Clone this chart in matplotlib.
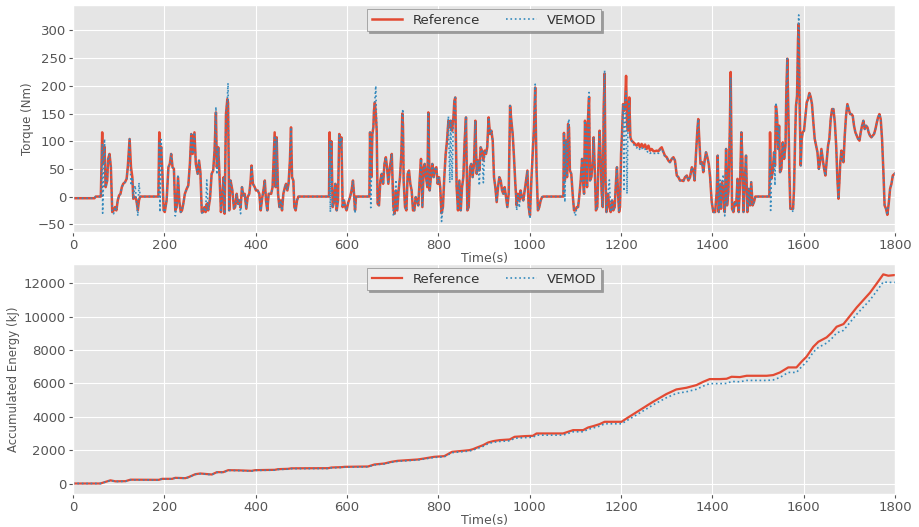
import numpy as np
import matplotlib
matplotlib.use("Agg")
import matplotlib.pyplot as plt

plt.style.use("ggplot")

# ---- torque trace (s, Nm) ----
torque_t = [
    0, 47, 50, 61, 64, 65, 69, 71.5, 75, 77,
    80, 83, 86, 89, 92, 95, 98, 101, 104, 107,
    110, 114, 117.5, 120, 124, 127, 130, 132, 136, 139,
    142, 144.5, 147, 187, 189, 190.5, 193, 195.6, 198.5, 201,
    205, 209, 212, 215, 218, 221, 224, 227, 230, 233,
    236, 238.7, 241.6, 245, 249, 252.5, 256, 259, 262, 266,
    269, 273, 276, 279, 282, 285, 288, 290.5, 293, 296,
    300, 303.6, 307, 310, 313, 315, 318, 321, 324, 327,
    330, 332, 335, 338, 339.5, 342, 345, 349, 352.5, 355,
    358.4, 361.3, 364, 367, 370, 373, 376, 379.5, 382.5, 386,
    389, 391, 394, 398, 400.7, 404.4, 408, 411, 414, 417,
    420, 422.6, 425.5, 428.5, 431, 434, 437, 441.6, 443.8, 446,
    449, 452, 455, 457.7, 460.6, 464, 466.5, 469.4, 472, 475,
    477.4, 479.6, 482.5, 484.7, 487.6, 490.5, 493.5, 560.6, 562, 563.5,
    565.7, 568.6, 571.5, 574.5, 577.4, 580.3, 583, 585.4, 587.6, 590.5,
    593.4, 596.3, 599, 603, 606.6, 610, 613, 615.3, 617.5, 619.7,
    649, 650.4, 652, 653.3, 655.5, 657.7, 659, 661, 663, 665,
    667, 670, 673, 676, 679, 682, 685, 687.6, 690.5, 694,
    698, 701.5, 704.3, 707, 710, 713, 716, 719, 721, 722.5,
    724, 727, 730, 732.8, 735.7, 738.6, 741.5, 744.5, 747.4, 750.3,
    753, 756, 759, 762, 765, 768, 770, 773, 776, 778,
    781, 784, 786.8, 789.7, 792.6, 795.6, 798.5, 801.4, 804, 807,
    810, 813, 816, 819, 822, 825, 827, 830, 833, 835,
    837, 840, 843, 846, 849, 851.8, 854.7, 857.6, 860.5, 863.5,
    866.4, 869.3, 872, 875, 878, 881, 884, 887, 889.7, 892.6,
    895.5, 898.5, 901.4, 904.3, 907, 910, 913, 916, 919, 921.8,
    924.7, 927.7, 930.6, 933.5, 936.5, 939.4, 942.3, 945.2, 948, 951,
    954, 957, 959.8, 962.7, 965.6, 968.5, 971.5, 974.4, 977.3, 980,
    983, 986, 989, 992, 995, 997.7, 1000.6, 1003.6, 1006.5, 1009.4,
    1012, 1015, 1018, 1021, 1024, 1027, 1030, 1073.7, 1075, 1077,
    1079.5, 1081.7, 1084, 1086, 1088, 1091, 1094, 1097, 1100, 1103,
    1106, 1109, 1111.7, 1114.6, 1116.8, 1119, 1121, 1123, 1125.5, 1127.7,
    1130, 1132, 1135, 1138, 1140, 1143, 1145, 1148, 1151, 1153,
    1155.5, 1157.6, 1160, 1162, 1164, 1166, 1168, 1171.5, 1174.4, 1177.3,
    1180.3, 1183, 1186, 1189, 1191, 1193.4, 1195.6, 1197.8, 1200, 1202,
    1204.4, 1206.5, 1208.7, 1211, 1213, 1215, 1218, 1220.4, 1223, 1227,
    1230.6, 1234, 1238, 1241.6, 1245, 1249, 1252.5, 1256, 1260, 1263.5,
    1267, 1271, 1274.4, 1278, 1282, 1285, 1289, 1293, 1296, 1300,
    1303.6, 1307, 1311, 1314.6, 1318, 1322, 1325.5, 1329, 1333, 1336.5,
    1340, 1344, 1347.4, 1351, 1355, 1358.4, 1361, 1364, 1367, 1369,
    1371.5, 1374, 1377.4, 1380, 1383, 1386, 1389, 1392, 1395, 1398.5,
    1402, 1406, 1409.4, 1411.6, 1413.8, 1416.7, 1419, 1421, 1424, 1427,
    1430, 1432, 1435, 1438, 1440, 1443, 1446, 1449, 1452, 1455,
    1457.6, 1460.5, 1463.4, 1465.6, 1468, 1470.7, 1473.6, 1476.5, 1479.5, 1482.4,
    1485, 1488, 1491, 1494, 1524.7, 1526.2, 1527.5, 1529, 1532, 1535,
    1537, 1539, 1541.5, 1544, 1546, 1548, 1551, 1554, 1557, 1560,
    1562, 1564, 1566.3, 1568.5, 1570.7, 1573.6, 1576.6, 1578.7, 1581, 1583,
    1585.3, 1587.5, 1589, 1591, 1593.4, 1595.5, 1597.7, 1600.6, 1603.6, 1606.5,
    1609.4, 1612.3, 1615.2, 1618, 1621, 1624, 1627, 1630, 1633, 1635.7,
    1638.6, 1641.5, 1644.5, 1647.4, 1650, 1653.2, 1656, 1659, 1662, 1665,
    1668, 1671, 1673.6, 1676, 1678, 1680, 1682.4, 1684.6, 1687, 1689.7,
    1692.6, 1695.5, 1698.5, 1701.4, 1704.3, 1707.2, 1710, 1713, 1716, 1719,
    1722, 1724.7, 1727.6, 1730.6, 1733.5, 1736.4, 1739.4, 1742, 1745, 1748,
    1751, 1754, 1757, 1760, 1762.7, 1765.6, 1768.5, 1771.4, 1774.4, 1777,
    1780, 1783, 1786, 1789, 1792, 1795, 1798.5, 1800,
]

torque_ref = [
    -3, -3, 0, 0, 116, 60, 90, 17, 29, 68,
    77, 53, -28, -25, -19, -25, -7, 2, 5, 17,
    23, 26, 32, 53, 104, 53, 35, -4, -1, -7,
    -25, -7, 0, 0, 116, 60, 90, 47, -25, -28,
    -7, 53, 59, 77, 53, 50, -25, -19, 35, -10,
    -28, -25, -13, 5, 14, 20, 59, 113, 77, 116,
    59, 41, 65, 44, -28, -28, -19, -28, -13, -25,
    -4, 41, 47, 83, 152, 53, 89, 35, -28, 2,
    35, -31, 149, 176, 170, -25, 29, 11, -22, -19,
    5, -13, -7, -20, 17, 2, 5, -22, -1, 5,
    29, 56, 23, 17, 11, 11, 5, -25, -4, 11,
    29, -7, -25, 5, 5, 5, 17, 116, 17, 107,
    5, -19, -7, -25, 5, 17, 23, 11, 23, 65,
    125, 35, 29, -19, -25, -7, 0, 0, 116, 50,
    100, -19, -10, 23, -25, -7, 113, 89, 107, -19,
    -7, -19, -25, -10, -1, 11, 29, 5, -25, 0,
    0, 116, 60, 35, 113, 125, 155, 170, 150, 119,
    -13, -16, 29, 41, 23, 59, 71, 53, 23, 53,
    77, -19, -31, 11, -25, 11, 35, 77, 150, 130,
    29, -19, -25, 41, 47, 23, 11, -25, -25, -1,
    -7, -16, 29, 68, -19, 53, 59, 35, 17, 152,
    11, 38, 59, 35, 50, 53, 23, 35, 17, -30,
    -19, 35, 77, 101, 137, 125, 137, 119, 143, 173,
    179, 17, -25, 29, -25, 17, 35, 101, 143, -25,
    -19, 53, 59, 35, 59, 137, 41, 65, 47, 89,
    83, 65, 83, 77, 89, 143, 113, 119, 101, 35,
    17, -10, 17, 35, 29, 11, 5, 17, -1, -19,
    5, 164, 137, 113, 71, 23, -16, 5, -7, 11,
    -1, -7, 11, 29, 47, -19, -34, 29, 77, 125,
    197, 47, -25, -19, -7, -1, 0, 0, 115, 30,
    101, 35, 131, 125, 47, 41, 5, -25, -25, -19,
    -19, 5, 29, 68, 29, 5, 137, 119, 17, 143,
    180, 29, 35, 65, 107, 35, -25, -19, 77, 119,
    65, 5, -19, 161, 222, 29, -28, 5, -19, -28,
    -7, -25, -19, 29, 53, 5, -28, -19, 77, 113,
    167, 155, 167, 218, 137, 119, 179, 107, 101, 98,
    95, 92, 96, 89, 95, 89, 94, 86, 92, 83,
    86, 82, 82, 83, 82, 86, 89, 80, 74, 71,
    65, 62, 68, 71, 65, 38, 35, 29, 29, 28,
    35, 38, 29, 35, 53, 47, 29, 77, 119, 140,
    101, 59, 62, 44, 65, 80, 71, 59, 35, -10,
    -28, -28, 8, 74, -28, 20, -22, 26, 8, -28,
    86, -16, 8, 116, 225, -22, -28, -10, -16, 32,
    -28, 20, 116, 68, -28, 26, 74, -28, 14, -16,
    26, -16, -10, 0, 0, 116, 60, 32, 44, 80,
    56, 164, 146, 86, 128, 44, 50, 98, 68, 92,
    195, 249, 152, 44, -22, -22, -22, 14, 104, 164,
    182, 285, 312, 164, 56, 104, 116, 119, 146, 170,
    176, 187, 180, 167, 134, 104, 92, 80, 50, 62,
    86, 68, 50, 38, 62, 92, 104, 140, 158, 158,
    134, 92, 32, -4, 26, 62, 83, 68, 62, 110,
    146, 167, 158, 149, 149, 146, 128, 116, 110, 104,
    101, 116, 128, 137, 122, 128, 125, 116, 110, 107,
    110, 113, 122, 134, 143, 149, 140, 104, 44, -16,
    -22, -33, -13, 14, 23, 38, 41, 42,
]

torque_vemod = [
    -3, -3, 0, 0, 95, -30, 104, 17, 29, 68,
    77, 53, -28, -31, -19, -25, -7, 2, 5, 17,
    23, 26, 32, 53, 104, 20, 35, -4, 20, -7,
    -35, 25, 0, 0, 100, -28, 103, 47, -25, -28,
    -7, 53, 59, 77, 53, 50, -35, -19, 40, -10,
    -28, -25, -13, 5, 14, 20, 59, 113, 77, 116,
    59, 41, 65, 44, -30, -28, -19, -28, 30, -25,
    -4, 41, 47, 83, 162, 40, 89, 35, -28, 2,
    35, -31, 149, 176, 205, -25, 29, 11, -22, -19,
    5, -13, -7, -31, 17, 2, 5, -22, -1, 5,
    29, 56, 23, 17, 11, 11, 5, -25, -4, 11,
    29, -7, -25, 5, 5, 5, 17, 110, 17, 105,
    5, -19, -7, -25, 5, 17, 23, 11, 23, 65,
    125, 35, 29, -19, -25, -7, 0, 0, 100, -28,
    98, -19, -10, 23, -25, -7, 113, 89, 107, -19,
    -7, -19, -25, -10, -1, 11, 29, 5, -30, 0,
    0, 116, -20, 35, 113, 125, 155, 175, 200, 119,
    -13, -16, 29, 41, 23, 59, 71, 53, 23, 53,
    77, -35, -31, 30, -25, 11, 35, 80, 150, 158,
    29, -19, -25, 41, 47, 23, 11, -25, -25, -1,
    -7, -16, 29, 68, -19, 53, 59, 35, 17, 152,
    11, 38, 59, 35, 50, 53, 23, 35, 17, -45,
    -19, 35, 77, 101, 145, 25, 137, 30, 143, 173,
    179, 17, -25, 29, -25, 17, 35, 101, 143, -25,
    -19, 53, 59, 35, 59, 137, 41, 65, 20, 89,
    83, 25, 83, 77, 89, 143, 113, 119, 101, 35,
    17, -10, 17, 35, 29, 11, 5, 17, -1, -19,
    5, 164, 137, 113, 71, 23, -25, 5, -20, 11,
    -1, -7, 11, 29, 47, -19, -40, 29, 77, 125,
    203, 47, -25, -19, -7, -1, 0, 0, 113, -10,
    101, 35, 131, 140, 47, 41, 5, -25, -35, -19,
    -19, 5, 29, 68, 29, 5, 137, 119, 17, 143,
    188, 29, 35, 65, 107, 35, -25, -19, 77, 119,
    65, 5, -19, 161, 228, 29, -28, 5, 30, -28,
    -7, -25, -19, 29, 53, 5, -28, -19, 77, 113,
    167, 10, 167, 190, 5, 119, 175, 107, 101, 95,
    90, 88, 90, 84, 88, 84, 86, 80, 82, 78,
    80, 78, 78, 80, 78, 84, 86, 78, 72, 70,
    65, 62, 68, 71, 65, 38, 35, 29, 29, 28,
    35, 38, 29, 35, 53, 47, 29, 77, 119, 140,
    101, 59, 62, 44, 65, 80, 71, 59, 35, -10,
    -28, -28, 8, 74, -28, 30, -22, 26, 40, -35,
    86, -16, 8, 116, 215, -22, -28, -10, -16, 32,
    -28, 20, 116, 68, -28, 26, 74, -28, 14, -16,
    26, -16, -10, 0, 0, 85, -25, 32, 44, 80,
    20, 170, 146, 86, 128, 44, 50, 98, 68, 92,
    195, 249, 152, 44, -22, -22, -28, 14, 104, 164,
    175, 285, 328, 164, 56, 104, 116, 119, 146, 170,
    176, 187, 180, 167, 134, 104, 92, 80, 50, 62,
    86, 68, 50, 38, 62, 92, 104, 140, 158, 158,
    134, 92, 32, -4, 26, 62, 80, 68, 62, 110,
    146, 167, 158, 149, 149, 146, 128, 116, 110, 104,
    101, 116, 128, 137, 122, 128, 125, 116, 110, 107,
    110, 113, 122, 134, 143, 149, 140, 104, 44, -16,
    -22, -33, -13, 14, 23, 38, 41, 42,
]

# ---- accumulated energy (s, kJ) ----
energy_t = [
    0, 60, 82, 93, 115, 126, 188, 195, 217, 224,
    246, 253, 268, 279, 304, 315, 329, 340, 362, 391,
    399, 442, 449, 471, 478, 559, 566, 588, 595, 646,
    660, 682, 697, 711, 733, 755, 769, 791, 813, 830,
    854, 868, 876, 883, 898, 909, 920, 934, 956, 967,
    989, 1007, 1015, 1073, 1084, 1095, 1117, 1128, 1139, 1153,
    1164, 1183, 1201, 1212, 1241, 1270, 1299, 1321, 1343, 1365,
    1380, 1394, 1416, 1431, 1442, 1460, 1475, 1519, 1533, 1548,
    1566, 1584, 1595, 1606, 1621, 1632, 1650, 1661, 1672, 1687,
    1716, 1745, 1760, 1774, 1785, 1800,
]

energy_ref = [
    0, 0, 190, 130, 140, 230, 220, 280, 280, 340,
    320, 380, 560, 600, 540, 680, 680, 800, 790, 760,
    800, 820, 860, 880, 910, 920, 960, 980, 1000, 1020,
    1140, 1200, 1300, 1360, 1400, 1440, 1500, 1600, 1640, 1900,
    1960, 2000, 2060, 2140, 2300, 2460, 2540, 2600, 2640, 2800,
    2840, 2860, 3000, 3000, 3100, 3200, 3200, 3360, 3440, 3560,
    3700, 3700, 3700, 3900, 4400, 4900, 5360, 5640, 5740, 5900,
    6100, 6260, 6260, 6280, 6400, 6380, 6460, 6460, 6500, 6660,
    6960, 6960, 7300, 7600, 8200, 8500, 8760, 9040, 9400, 9560,
    10560, 11440, 12000, 12540, 12460, 12500,
]

energy_vemod = [
    0, 0, 180, 120, 130, 220, 210, 270, 270, 330,
    310, 370, 545, 585, 525, 665, 665, 785, 775, 745,
    785, 800, 840, 860, 890, 900, 940, 960, 980, 1000,
    1115, 1175, 1270, 1330, 1370, 1410, 1470, 1565, 1600, 1850,
    1910, 1950, 2000, 2080, 2230, 2390, 2470, 2520, 2560, 2710,
    2750, 2770, 2900, 2900, 3000, 3100, 3100, 3250, 3330, 3440,
    3580, 3580, 3580, 3760, 4230, 4710, 5140, 5400, 5500, 5650,
    5840, 5990, 5990, 6000, 6120, 6100, 6180, 6180, 6210, 6360,
    6660, 6660, 6990, 7290, 7880, 8160, 8420, 8680, 9030, 9180,
    10150, 11000, 11550, 12080, 12060, 12060,
]

RED = "#E24A33"
BLUE = "#348ABD"
TXT = "#555555"

fig = plt.figure(figsize=(9.19, 5.27), dpi=100)
ax1 = fig.add_axes([0.0794, 0.5598, 0.8946, 0.4307])
ax2 = fig.add_axes([0.0794, 0.0626, 0.8946, 0.4364])


def style_axis(ax, ylabel):
    ax.set_xlim(0, 1800)
    ax.set_xticks(np.arange(0, 1801, 200))
    ax.tick_params(labelsize=9.5, colors=TXT, length=3, pad=2)
    ax.set_xlabel("Time(s)", fontsize=9, color=TXT, labelpad=0)
    ax.set_ylabel(ylabel, fontsize=8.5, color=TXT, labelpad=3)
    leg = ax.legend(loc="upper center", ncol=2, fontsize=9.5,
                    shadow={"ox": 1.5, "oy": -1.5, "color": "#888888",
                            "alpha": 0.8},
                    fancybox=False, framealpha=1, handlelength=2.3,
                    columnspacing=2.0, borderaxespad=0.3,
                    borderpad=0.35)
    leg.get_frame().set_facecolor("#EBEBEB")
    leg.get_frame().set_edgecolor("#8c8c8c")
    for text in leg.get_texts():
        text.set_color("#333333")


ax1.plot(torque_t, torque_ref, color=RED, lw=1.8, label="Reference")
ax1.plot(torque_t, torque_vemod, color=BLUE, lw=1.2, ls=":", label="VEMOD")
ax1.set_ylim(-64, 346)
ax1.set_yticks(np.arange(-50, 301, 50))
style_axis(ax1, "Torque (Nm)")

ax2.plot(energy_t, energy_ref, color=RED, lw=1.6, label="Reference")
ax2.plot(energy_t, energy_vemod, color=BLUE, lw=1.2, ls=":", label="VEMOD")
ax2.set_ylim(-630, 13160)
ax2.set_yticks(np.arange(0, 12001, 2000))
style_axis(ax2, "Accumulated Energy (kJ)")

fig.savefig("out.png", dpi=100)
